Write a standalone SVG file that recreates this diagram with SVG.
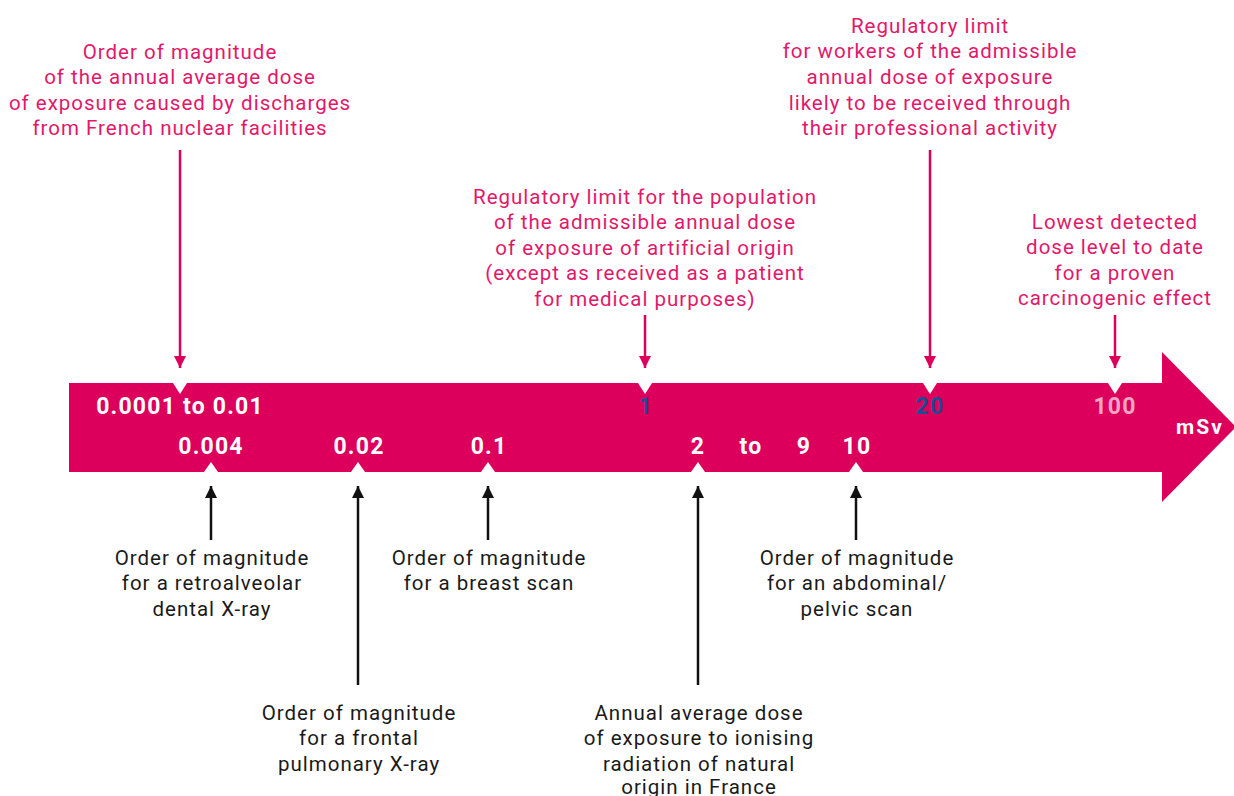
<svg xmlns="http://www.w3.org/2000/svg" width="1234" height="796" viewBox="0 0 1234 796">
  <defs>
    <style>
      .lbl { font-family: Roboto, "Liberation Sans", sans-serif; font-size: 20.5px; letter-spacing: 1px; text-anchor: middle; }
      .pk { fill: #e2186a; }
      .bk { fill: #1a1a1a; }
      .val { font-family: Roboto, "Liberation Sans", sans-serif; font-weight: bold; font-size: 23px; letter-spacing: 1.2px; fill: #ffffff; text-anchor: middle; }
      .blue { fill: #1f4b94; }
      .lite { fill: #f3a6c4; }
      .pline { stroke: #dc005c; stroke-width: 2.5; fill: none; }
      .bline { stroke: #111111; stroke-width: 2.5; fill: none; }
      .notch { fill: #ffffff; }
    </style>
    <marker id="headPink" viewBox="0 0 10 10" refX="10" refY="5" markerUnits="userSpaceOnUse" markerWidth="13" markerHeight="12" orient="auto">
      <path d="M0,0 L10,5 L0,10 Z" fill="#dc005c"/>
    </marker>
    <marker id="headBlack" viewBox="0 0 10 10" refX="10" refY="5" markerUnits="userSpaceOnUse" markerWidth="13" markerHeight="12" orient="auto">
      <path d="M0,0 L10,5 L0,10 Z" fill="#111111"/>
    </marker>
  </defs>

  <rect width="1234" height="796" fill="#ffffff"/>

  <!-- dose scale arrow -->
  <g id="scale">
    <path d="M69,383 L1162,383 L1162,352 L1236,427 L1162,502 L1162,472 L69,472 Z" fill="#dc005c"/>
    <!-- upper notches -->
    <path class="notch" d="M173,383 L187,383 L180,394 Z"/>
    <path class="notch" d="M638,383 L652,383 L645,394 Z"/>
    <path class="notch" d="M923,383 L937,383 L930,394 Z"/>
    <path class="notch" d="M1108,383 L1122,383 L1115,394 Z"/>
    <!-- lower notches -->
    <path class="notch" d="M204,472 L218,472 L211,462 Z"/>
    <path class="notch" d="M351,472 L365,472 L358,462 Z"/>
    <path class="notch" d="M481,472 L495,472 L488,462 Z"/>
    <path class="notch" d="M691,472 L705,472 L698,462 Z"/>
    <path class="notch" d="M849,472 L863,472 L856,462 Z"/>
    <!-- values -->
    <text class="val" x="180" y="414">0.0001 to 0.01</text>
    <text class="val blue" x="646" y="414">1</text>
    <text class="val blue" x="930" y="414">20</text>
    <text class="val lite" x="1115" y="414">100</text>
    <text class="val" x="211" y="454">0.004</text>
    <text class="val" x="359" y="454">0.02</text>
    <text class="val" x="489" y="454">0.1</text>
    <text class="val" x="698" y="454">2</text>
    <text class="val" x="751" y="454">to</text>
    <text class="val" x="804" y="454">9</text>
    <text class="val" x="857" y="454">10</text>
    <text class="val" x="1200" y="434" style="font-size:21px;letter-spacing:2px">mSv</text>
  </g>

  <!-- connectors -->
  <g id="connectors">
    <line class="pline" x1="180" y1="150" x2="180" y2="368" marker-end="url(#headPink)"/>
    <line class="pline" x1="645" y1="315" x2="645" y2="368" marker-end="url(#headPink)"/>
    <line class="pline" x1="930" y1="150" x2="930" y2="368" marker-end="url(#headPink)"/>
    <line class="pline" x1="1115" y1="315" x2="1115" y2="368" marker-end="url(#headPink)"/>
    <line class="bline" x1="211" y1="540" x2="211" y2="486" marker-end="url(#headBlack)"/>
    <line class="bline" x1="358" y1="685" x2="358" y2="486" marker-end="url(#headBlack)"/>
    <line class="bline" x1="488" y1="540" x2="488" y2="486" marker-end="url(#headBlack)"/>
    <line class="bline" x1="698" y1="685" x2="698" y2="486" marker-end="url(#headBlack)"/>
    <line class="bline" x1="856" y1="540" x2="856" y2="486" marker-end="url(#headBlack)"/>
  </g>

  <!-- upper captions -->
  <g id="discharges">
    <text class="lbl pk" x="180" y="59">Order of magnitude</text>
    <text class="lbl pk" x="180" y="84">of the annual average dose</text>
    <text class="lbl pk" x="180" y="110">of exposure caused by discharges</text>
    <text class="lbl pk" x="180" y="135">from French nuclear facilities</text>
  </g>
  <g id="public-limit">
    <text class="lbl pk" x="645" y="204">Regulatory limit for the population</text>
    <text class="lbl pk" x="645" y="229">of the admissible annual dose</text>
    <text class="lbl pk" x="645" y="255">of exposure of artificial origin</text>
    <text class="lbl pk" x="645" y="280">(except as received as a patient</text>
    <text class="lbl pk" x="645" y="306">for medical purposes)</text>
  </g>
  <g id="worker-limit">
    <text class="lbl pk" x="930" y="33">Regulatory limit</text>
    <text class="lbl pk" x="930" y="58">for workers of the admissible</text>
    <text class="lbl pk" x="930" y="84">annual dose of exposure</text>
    <text class="lbl pk" x="930" y="110">likely to be received through</text>
    <text class="lbl pk" x="930" y="135">their professional activity</text>
  </g>
  <g id="carcinogenic">
    <text class="lbl pk" x="1115" y="229">Lowest detected</text>
    <text class="lbl pk" x="1115" y="254">dose level to date</text>
    <text class="lbl pk" x="1115" y="280">for a proven</text>
    <text class="lbl pk" x="1115" y="305">carcinogenic effect</text>
  </g>

  <!-- lower captions -->
  <g id="dental">
    <text class="lbl bk" x="212" y="565">Order of magnitude</text>
    <text class="lbl bk" x="212" y="590">for a retroalveolar</text>
    <text class="lbl bk" x="212" y="616">dental X-ray</text>
  </g>
  <g id="pulmonary">
    <text class="lbl bk" x="359" y="720">Order of magnitude</text>
    <text class="lbl bk" x="359" y="745">for a frontal</text>
    <text class="lbl bk" x="359" y="771">pulmonary X-ray</text>
  </g>
  <g id="breast">
    <text class="lbl bk" x="489" y="565">Order of magnitude</text>
    <text class="lbl bk" x="489" y="590">for a breast scan</text>
  </g>
  <g id="natural">
    <text class="lbl bk" x="699" y="720">Annual average dose</text>
    <text class="lbl bk" x="699" y="745">of exposure to ionising</text>
    <text class="lbl bk" x="699" y="771">radiation of natural</text>
    <text class="lbl bk" x="699" y="794">origin in France</text>
  </g>
  <g id="abdominal">
    <text class="lbl bk" x="857" y="565">Order of magnitude</text>
    <text class="lbl bk" x="857" y="590">for an abdominal/</text>
    <text class="lbl bk" x="857" y="616">pelvic scan</text>
  </g>
</svg>
